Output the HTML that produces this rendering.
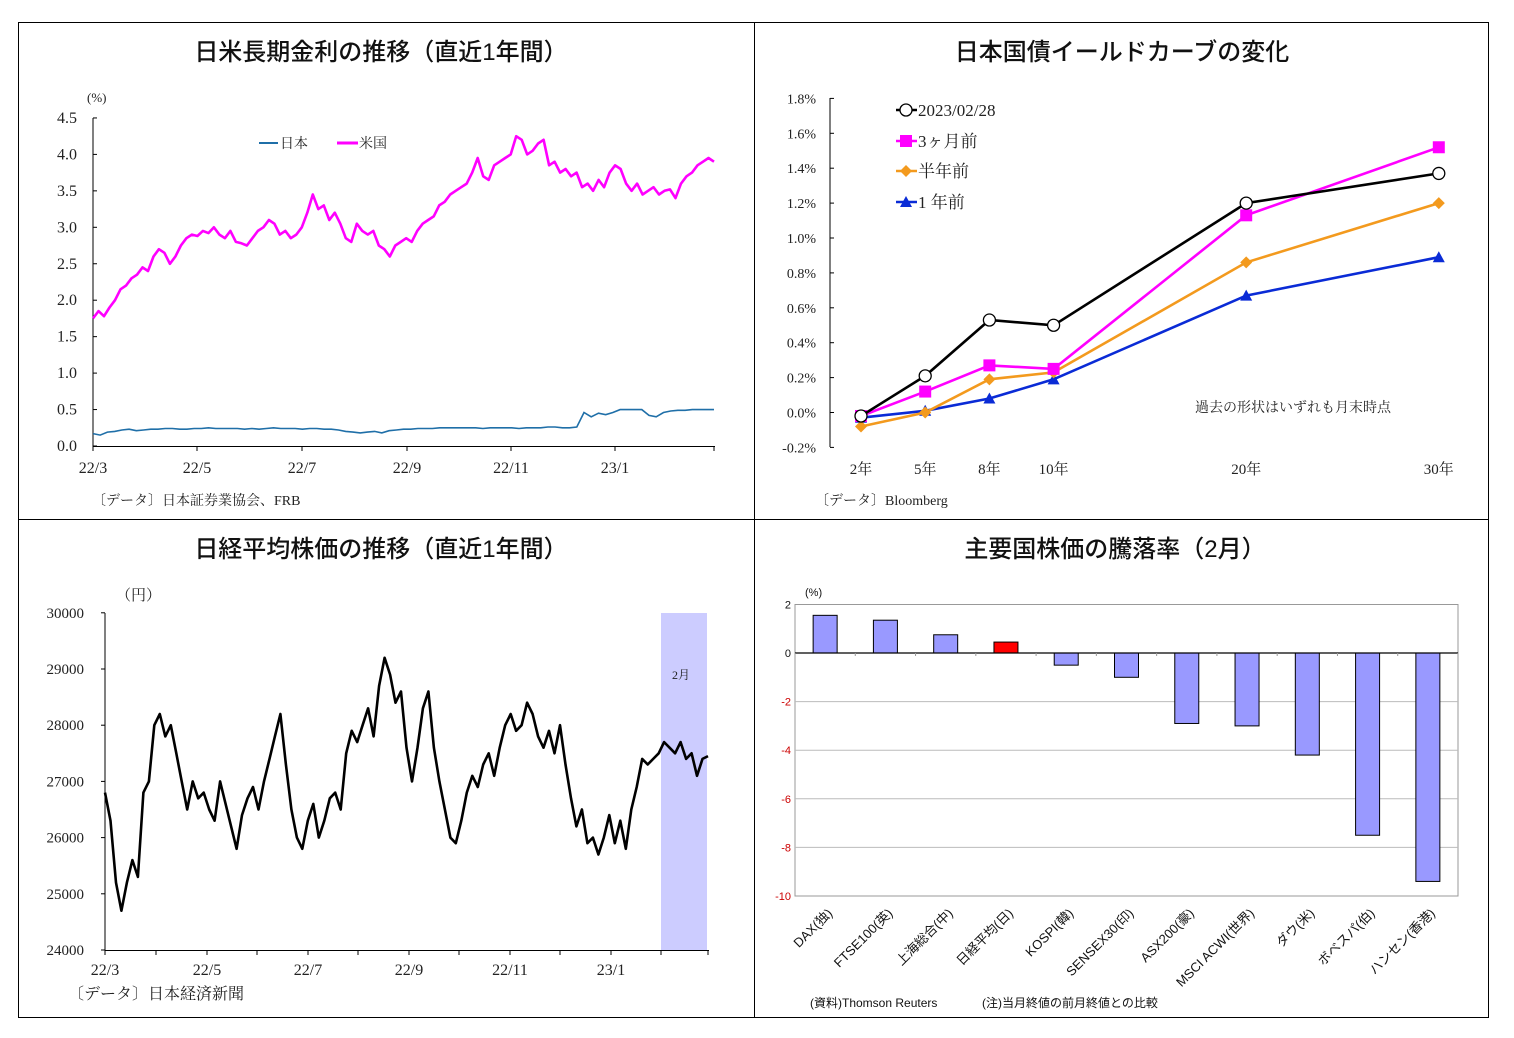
<!DOCTYPE html>
<html><head><meta charset="utf-8">
<style>
html,body{margin:0;padding:0;background:#fff;}
svg{display:block;}
.t{font-family:"Liberation Serif","Noto Serif CJK SC",serif;fill:#222;}
.h{font-family:"Liberation Sans","Noto Sans CJK JP",sans-serif;fill:#111;}
.s{font-family:"Liberation Sans","Noto Sans CJK JP",sans-serif;fill:#111;}
</style></head>
<body>
<svg id="root" width="1514" height="1038" xmlns="http://www.w3.org/2000/svg">
<rect x="18.5" y="22.5" width="1470" height="995" fill="none" stroke="#000" stroke-width="1"/>
<line x1="754.5" y1="22" x2="754.5" y2="1017" stroke="#000"/>
<line x1="18" y1="519.5" x2="1488" y2="519.5" stroke="#000"/>
<text x="381" y="60" text-anchor="middle" font-size="24" class="h" font-weight="500">日米長期金利の推移（直近1年間）</text>
<text x="1122" y="60" text-anchor="middle" font-size="24" class="h" font-weight="500">日本国債イールドカーブの変化</text>
<text x="381" y="557" text-anchor="middle" font-size="24" class="h" font-weight="500">日経平均株価の推移（直近1年間）</text>
<text x="1115" y="557" text-anchor="middle" font-size="24" class="h" font-weight="500">主要国株価の騰落率（2月）</text>
<g id="p1"></g><g id="p2"></g><g id="p3"></g><g id="p4"></g>
</svg>
<script>
// ---- Panel 1 data: 10y yields (%) ----
const usYield=[1.75,1.85,1.78,1.9,2.0,2.15,2.2,2.3,2.35,2.45,2.4,2.6,2.7,2.65,2.5,2.6,2.75,2.85,2.9,2.88,2.95,2.92,3.0,2.9,2.85,2.95,2.8,2.78,2.75,2.85,2.95,3.0,3.1,3.05,2.9,2.95,2.85,2.9,3.0,3.2,3.45,3.25,3.3,3.1,3.2,3.05,2.85,2.8,3.05,2.95,2.9,2.95,2.75,2.7,2.6,2.75,2.8,2.85,2.8,2.95,3.05,3.1,3.15,3.3,3.35,3.45,3.5,3.55,3.6,3.75,3.95,3.7,3.65,3.85,3.9,3.95,4.0,4.25,4.2,4.0,4.05,4.15,4.2,3.85,3.9,3.75,3.8,3.7,3.75,3.55,3.6,3.5,3.65,3.55,3.75,3.85,3.8,3.6,3.5,3.6,3.45,3.5,3.55,3.45,3.5,3.52,3.4,3.6,3.7,3.75,3.85,3.9,3.95,3.9];
const jpYield=[0.17,0.15,0.19,0.2,0.22,0.23,0.21,0.22,0.23,0.23,0.24,0.24,0.23,0.23,0.24,0.24,0.25,0.24,0.24,0.24,0.24,0.23,0.24,0.23,0.24,0.25,0.24,0.24,0.24,0.23,0.24,0.24,0.23,0.23,0.22,0.2,0.19,0.18,0.19,0.2,0.18,0.21,0.22,0.23,0.23,0.24,0.24,0.24,0.25,0.25,0.25,0.25,0.25,0.25,0.24,0.25,0.25,0.25,0.25,0.24,0.25,0.25,0.25,0.26,0.26,0.25,0.25,0.26,0.46,0.4,0.45,0.43,0.46,0.5,0.5,0.5,0.5,0.42,0.4,0.46,0.48,0.49,0.49,0.5,0.5,0.5,0.5];
const rateTicks=[0,0.5,1,1.5,2,2.5,3,3.5,4,4.5];
const rateTickLabels=["0.0","0.5","1.0","1.5","2.0","2.5","3.0","3.5","4.0","4.5"];
const monthLabels=["22/3","22/5","22/7","22/9","22/11","23/1"];
// ---- Panel 2 data ----
const maturities=["2年","5年","8年","10年","20年","30年"];
const maturityYears=[2,5,8,10,20,30];
const curveLatest=[-0.02,0.21,0.53,0.50,1.20,1.37];
const curve3m=[-0.02,0.12,0.27,0.25,1.13,1.52];
const curve6m=[-0.08,0.0,0.19,0.23,0.86,1.20];
const curve1y=[-0.03,0.01,0.08,0.19,0.67,0.89];
const curveTicks=[-0.2,0,0.2,0.4,0.6,0.8,1.0,1.2,1.4,1.6,1.8];
// ---- Panel 3 data ----
const nikkei=[26800,26300,25200,24700,25200,25600,25300,26800,27000,28000,28200,27800,28000,27500,27000,26500,27000,26700,26800,26500,26300,27000,26600,26200,25800,26400,26700,26900,26500,27000,27400,27800,28200,27300,26500,26000,25800,26300,26600,26000,26300,26700,26800,26500,27500,27900,27700,28000,28300,27800,28700,29200,28900,28400,28600,27600,27000,27600,28300,28600,27600,27000,26500,26000,25900,26300,26800,27100,26900,27300,27500,27100,27600,28000,28200,27900,28000,28400,28200,27800,27600,27900,27500,28000,27300,26700,26200,26500,25900,26000,25700,26000,26400,25900,26300,25800,26500,26900,27400,27300,27400,27500,27700,27600,27500,27700,27400,27500,27100,27400,27450];
const nikkeiTicks=[24000,25000,26000,27000,28000,29000,30000];
// ---- Panel 4 data ----
const markets=["DAX(独)","FTSE100(英)","上海総合(中)","日経平均(日)","KOSPI(韓)","SENSEX30(印)","ASX200(豪)","MSCI ACWI(世界)","ダウ(米)","ボベスパ(伯)","ハンセン(香港)"];
const changes=[1.55,1.35,0.75,0.45,-0.5,-1.0,-2.9,-3.0,-4.2,-7.5,-9.4];
const changeTicks=[2,0,-2,-4,-6,-8,-10];

const NS="http://www.w3.org/2000/svg";
function mk(parent,tag,attrs,text){const e=document.createElementNS(NS,tag);for(const k in attrs)e.setAttribute(k,attrs[k]);if(text!==undefined)e.textContent=text;parent.appendChild(e);return e;}
function pts(xs,ys){return xs.map((x,i)=>x.toFixed(1)+","+ys[i].toFixed(1)).join(" ");}

// Panel 1
(function(){
const g=document.getElementById('p1');
const x0=93,x1=714,yA=v=>446-v*72.9;
const xi=(i,n)=>x0+i*(x1-x0)/(n-1);
let e=mk(g,'line',{x1:x0,y1:118,x2:x0,y2:446,stroke:'#000'});

e=mk(g,'line',{x1:x0,y1:446.5,x2:x1+1,y2:446.5,stroke:'#000'});

rateTicks.forEach((v,i)=>{mk(g,'line',{x1:x0,y1:yA(v),x2:x0+4,y2:yA(v),stroke:'#000'});
 e=mk(g,'text',{x:77,y:yA(v)+5,'text-anchor':'end','font-size':16,class:'t'},rateTickLabels[i]);
 });
const mx=[93,197,302,407,511,615,714];
mx.forEach(x=>mk(g,'line',{x1:x,y1:446,x2:x,y2:451,stroke:'#000'}));
monthLabels.forEach((m,i)=>{e=mk(g,'text',{x:mx[i],y:473,'text-anchor':'middle','font-size':16,class:'t'},m);
 });
e=mk(g,'text',{x:87,y:102,'font-size':13,class:'t'},"(%)");
e=mk(g,'polyline',{points:pts(usYield.map((v,i)=>xi(i,usYield.length)),usYield.map(yA)),fill:'none',stroke:'#ff00ff','stroke-width':2.6,'stroke-linejoin':'round'});

e=mk(g,'polyline',{points:pts(jpYield.map((v,i)=>xi(i,jpYield.length)),jpYield.map(yA)),fill:'none',stroke:'#1f6fa8','stroke-width':1.6});

mk(g,'line',{x1:259,y1:143,x2:278,y2:143,stroke:'#1f6fa8','stroke-width':2});
e=mk(g,'text',{x:280,y:148,'font-size':14,class:'t'},"日本");
mk(g,'line',{x1:337,y1:143,x2:358,y2:143,stroke:'#ff00ff','stroke-width':3});
e=mk(g,'text',{x:359,y:148,'font-size':14,class:'t'},"米国");
e=mk(g,'text',{x:92,y:505,'font-size':14,class:'t'},"〔データ〕日本証券業協会、FRB");
})();

// Panel 2
(function(){
const g=document.getElementById('p2');
const yA=v=>412.5-v*174.5;
const slot=m=>m<=10?maturityYears.indexOf(m):3+(m-10)*0.3;
const xA=m=>861+slot(m)*64.2;
let e=mk(g,'line',{x1:830,y1:98,x2:830,y2:447,stroke:'#000'});

curveTicks.forEach(v=>{mk(g,'line',{x1:830,y1:yA(v),x2:834,y2:yA(v),stroke:'#000'});
 e=mk(g,'text',{x:816,y:yA(v)+5,'text-anchor':'end','font-size':14,class:'t'},v.toFixed(1)+"%");
 });
maturities.forEach((m,i)=>{e=mk(g,'text',{x:xA(maturityYears[i]),y:474,'text-anchor':'middle','font-size':15,class:'t'},m);
 });
const series=[[curve1y,'#0a2bd6','tri'],[curve6m,'#f39a1e','dia'],[curve3m,'#ff00ff','sq'],[curveLatest,'#000','circ']];
function marker(gg,t,x,y,c){
 if(t==='circ')return mk(gg,'circle',{cx:x,cy:y,r:6,fill:'#fff',stroke:'#000','stroke-width':1.3});
 if(t==='sq')return mk(gg,'rect',{x:x-6,y:y-6,width:12,height:12,fill:c});
 if(t==='dia')return mk(gg,'polygon',{points:`${x},${y-6} ${x+6},${y} ${x},${y+6} ${x-6},${y}`,fill:c});
 return mk(gg,'polygon',{points:`${x},${y-6} ${x+6},${y+5} ${x-6},${y+5}`,fill:c});}
series.forEach(s=>{const gg=mk(g,'g',{});
 e=mk(gg,'polyline',{points:pts(maturityYears.map(xA),s[0].map(yA)),fill:'none',stroke:s[1],'stroke-width':2.6});
 
 s[0].forEach((v,i)=>{const m=marker(gg,s[2],xA(maturityYears[i]),yA(v),s[1]);
  });});
const leg=[['circ','#000','2023/02/28',110],['sq','#ff00ff','3ヶ月前',141],['dia','#f39a1e','半年前',171],['tri','#0a2bd6','1 年前',202]];
leg.forEach(l=>{mk(g,'line',{x1:896,y1:l[3],x2:917,y2:l[3],stroke:l[1],'stroke-width':2.6});
 marker(g,l[0],906,l[3],l[1]);
 e=mk(g,'text',{x:918,y:l[3]+6,'font-size':17,class:'t'},l[2]);
 });
e=mk(g,'text',{x:1195,y:412,'font-size':14,class:'t'},"過去の形状はいずれも月末時点");
e=mk(g,'text',{x:815,y:505,'font-size':14,class:'t'},"〔データ〕Bloomberg");
})();

// Panel 3
(function(){
const g=document.getElementById('p3');
const x0=105,x1=708,yA=v=>950-(v-24000)*0.0562;
const xi=i=>x0+i*(x1-x0)/(nikkei.length-1);
let e=mk(g,'rect',{x:661,y:613,width:46,height:337,fill:'#ccccff'});

e=mk(g,'text',{x:681,y:679,'font-size':12,class:'t','text-anchor':'middle'},"2月");
e=mk(g,'line',{x1:x0,y1:613,x2:x0,y2:950,stroke:'#000'});
e=mk(g,'line',{x1:x0,y1:950.5,x2:709,y2:950.5,stroke:'#000'});
nikkeiTicks.forEach(v=>{mk(g,'line',{x1:x0-4,y1:yA(v),x2:x0,y2:yA(v),stroke:'#000'});
 e=mk(g,'text',{x:84,y:yA(v)+5,'text-anchor':'end','font-size':15,class:'t'},String(v));
 });
const mx=[105,156,207,257,308,358,409,459,510,560,611,661,708];
mx.forEach(x=>mk(g,'line',{x1:x,y1:950,x2:x,y2:955,stroke:'#000'}));
monthLabels.forEach((m,i)=>{e=mk(g,'text',{x:mx[i*2],y:975,'text-anchor':'middle','font-size':16,class:'t'},m);
 });
e=mk(g,'text',{x:116,y:600,'font-size':15,class:'t'},"（円）");
e=mk(g,'polyline',{points:pts(nikkei.map((v,i)=>xi(i)),nikkei.map(yA)),fill:'none',stroke:'#000','stroke-width':2.6,'stroke-linejoin':'round'});

e=mk(g,'text',{x:68,y:999,'font-size':16,class:'t'},"〔データ〕日本経済新聞");
})();

// Panel 4
(function(){
const g=document.getElementById('p4');
const x0=795,x1=1458,yA=v=>653-v*24.3;
const bw=(x1-x0)/markets.length;
let e=mk(g,'rect',{x:x0,y:604.5,width:x1-x0,height:291.5,fill:'none',stroke:'#999'});

changeTicks.forEach(v=>{if(v!==0&&v!==2&&v!==-10)mk(g,'line',{x1:x0,y1:yA(v),x2:x1,y2:yA(v),stroke:'#bbb'});
 e=mk(g,'text',{x:791,y:yA(v)+4,'text-anchor':'end','font-size':11,class:'s'},String(v));
 if(v<0)e.setAttribute('style','fill:#cc0000');
 });
changes.forEach((v,i)=>{const cx=x0+bw*(i+0.5);const y=yA(Math.max(v,0)),h=Math.abs(yA(v)-yA(0));
 e=mk(g,'rect',{x:cx-12,y:y,width:24,height:h,fill:i===3?'#ff0000':'#9999ff',stroke:'#000','stroke-width':1});
 
 e=mk(g,'text',{x:cx+8,y:914,'text-anchor':'end','font-size':13,class:'s',transform:`rotate(-45 ${cx+8} 914)`},markets[i]);
 });
e=mk(g,'line',{x1:x0,y1:yA(0),x2:x1,y2:yA(0),stroke:'#000','stroke-width':1.2});
for(let i=0;i<=markets.length;i++)mk(g,'line',{x1:x0+bw*i,y1:yA(0),x2:x0+bw*i,y2:yA(0)+3,stroke:'#999'});
e=mk(g,'text',{x:805,y:596,'font-size':11,class:'s'},"(%)");
e=mk(g,'text',{x:810,y:1007,'font-size':12,class:'s'},"(資料)Thomson Reuters");
e=mk(g,'text',{x:982,y:1007,'font-size':12,class:'s'},"(注)当月終値の前月終値との比較");
})();
</script>
</body></html>
